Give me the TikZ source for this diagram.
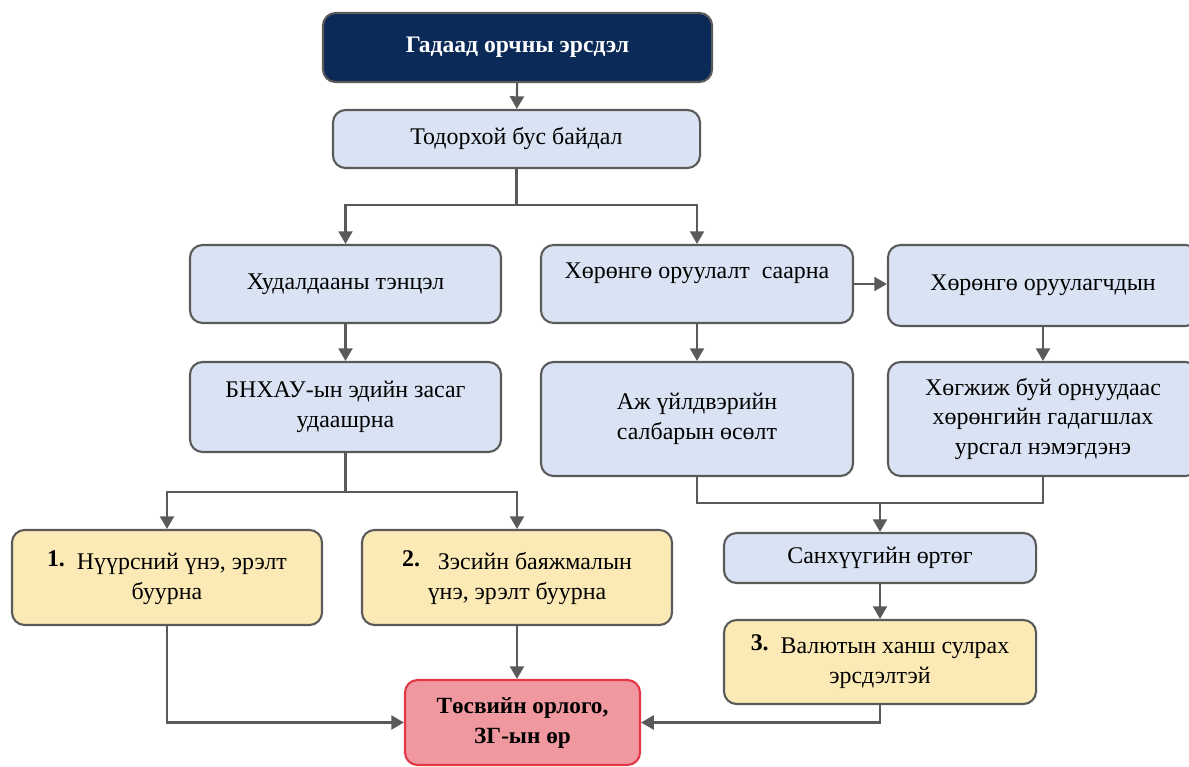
\documentclass[tikz,border=0pt]{standalone}
\usepackage{fontspec}
\setmainfont{Liberation Serif}
\usepackage{tikz}
\usetikzlibrary{arrows.meta}
\usepackage{xcolor}
\definecolor{riskblue}{HTML}{0B2A57}
\definecolor{paleblue}{HTML}{DAE3F3}
\definecolor{paleyellow}{HTML}{FBEAB6}
\definecolor{palered}{HTML}{F0989F}
\definecolor{edgered}{HTML}{E33747}
\definecolor{edgegray}{HTML}{5A5A5A}

\begin{document}
\begin{tikzpicture}[x=0.025cm, y=-0.025cm,
    box/.style={draw=edgegray, line width=1.5pt, rounded corners=9pt, fill=paleblue,
        align=center, inner sep=2pt, font=\fontsize{17}{21.3}\selectfont},
    effect/.style={box, fill=paleyellow},
    arr/.style={draw=edgegray, line width=1.5pt, -{Triangle[length=9pt, width=10pt]}},
    link/.style={draw=edgegray, line width=1.5pt}]
\clip (0,0) rectangle (1189,767);
\node[box, fill=riskblue, text=white, font=\fontsize{16.8}{20}\selectfont\bfseries,
    minimum width=9.725cm, minimum height=1.725cm] (risk) at (517.5,47.5) {Гадаад орчны эрсдэл};
\node[box, minimum width=9.175cm, minimum height=1.45cm] (tod) at (516.5,139) {Тодорхой бус байдал};
\node[box, minimum width=7.775cm, minimum height=1.95cm] (trade) at (345.5,284) {Худалдааны тэнцэл};
\node[box, minimum width=7.8cm, minimum height=1.95cm,
    label={[name=investtxt, yshift=0.28cm, font=\fontsize{17}{21.3}\selectfont]center:Хөрөнгө оруулалт\ \ саарна}] (invest) at (697,284) {};
\node[box, minimum width=7.75cm, minimum height=2.025cm] (investor) at (1043,285.5) {Хөрөнгө оруулагчдын};
\node[box, minimum width=7.775cm, minimum height=2.25cm] (china) at (345.5,407) {БНХАУ-ын эдийн засаг\\удаашрна};
\node[box, minimum width=7.8cm, minimum height=2.85cm] (industry) at (697,419) {Аж үйлдвэрийн\\салбарын өсөлт};
\node[box, minimum width=7.75cm, minimum height=2.85cm] (outflow) at (1043,419) {Хөгжиж буй орнуудаас\\хөрөнгийн гадагшлах\\урсгал нэмэгдэнэ};
\node[effect, minimum width=7.75cm, minimum height=2.375cm] (coal) at (167,577.5) {\raisebox{2pt}{\textbf{1.}}\ \ Нүүрсний үнэ, эрэлт\\буурна};
\node[effect, minimum width=7.75cm, minimum height=2.375cm] (copper) at (517,577.5) {\raisebox{2pt}{\textbf{2.}}\ \ \ Зэсийн баяжмалын\\үнэ, эрэлт буурна};
\node[box, minimum width=7.8cm, minimum height=1.25cm] (finance) at (880,558) {Санхүүгийн өртөг};
\node[effect, minimum width=7.8cm, minimum height=2.1cm] (fx) at (880,662) {\raisebox{2pt}{\textbf{3.}}\ \ Валютын ханш сулрах\\эрсдэлтэй};
\node[box, fill=palered, draw=edgered, font=\fontsize{16.5}{21.3}\selectfont\bfseries,
    minimum width=5.875cm, minimum height=2.125cm] (budget) at (522.5,722.5) {Төсвийн орлого,\\ЗГ-ын өр};

\coordinate (split1) at (516.5,205);
\coordinate (split2) at (345.5,492);
\coordinate (join) at (880,503);

\draw[arr] (risk) -- (tod);
\draw[link] (tod) -- (split1);
\draw[arr] (split1) -| (trade.north);
\draw[arr] (split1) -| (invest.north);
\draw[arr] (invest.east) -- (invest.east -| investor.west);
\draw[arr] (trade) -- (china);
\draw[arr] (invest) -- (industry);
\draw[arr] (investor) -- (outflow);
\draw[link] (china) -- (split2);
\draw[arr] (split2) -| (coal.north);
\draw[arr] (split2) -| (copper.north);
\draw[link] (industry.south) |- (join) -| (outflow.south);
\draw[arr] (join) -- (finance);
\draw[arr] (finance) -- (fx);
\draw[arr] (coal.south) |- (budget.west);
\draw[arr] (copper.south) -- (copper.south |- budget.north);
\draw[arr] (fx.south) |- (budget.east);
\end{tikzpicture}
\end{document}
